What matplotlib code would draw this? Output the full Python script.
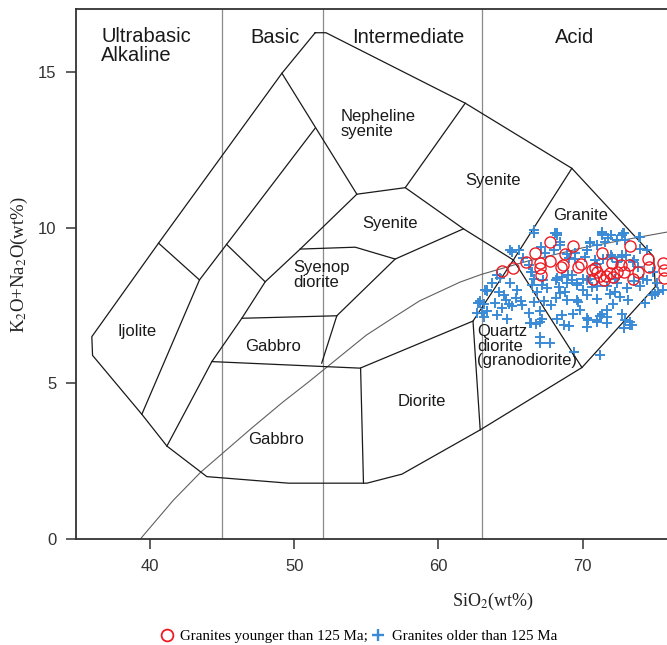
import matplotlib
matplotlib.use("Agg")
import matplotlib.pyplot as plt
from matplotlib.lines import Line2D

plt.rcParams["mathtext.fontset"] = "stix"

# --- field boundaries (SiO2, Na2O+K2O) ---
outline = [(51.45, 16.25), (52.2, 16.25), (61.86, 13.99), (69.26, 11.9),
           (74.93, 9.07), (75.05, 8.1), (69.96, 5.51), (62.9, 3.51),
           (57.47, 2.09), (55.04, 1.8), (49.6, 1.8), (43.93, 2.01),
           (41.16, 2.99), (39.42, 4.01), (36.0, 5.9), (35.95, 6.5),
           (40.58, 9.5), (49.14, 14.95), (51.45, 16.25)]
field_lines = [
    [(40.58, 9.5), (43.42, 8.32), (39.42, 4.01)],
    [(43.42, 8.32), (51.45, 13.19)],
    [(49.14, 14.95), (54.34, 11.07)],
    [(45.3, 9.46), (47.98, 8.26)],
    [(41.16, 2.99), (44.28, 5.7), (46.36, 7.09), (47.98, 8.26),
     (50.41, 9.31), (54.34, 11.07), (57.7, 11.28), (61.86, 13.99)],
    [(57.7, 11.28), (61.74, 9.96), (65.2, 8.96)],
    [(69.26, 11.9), (65.2, 8.96), (62.4, 7.0), (62.9, 3.51)],
    [(65.2, 8.96), (69.96, 5.51)],
    [(50.41, 9.31), (54.23, 9.37), (57.0, 8.99), (61.74, 9.96)],
    [(57.0, 8.99), (52.95, 7.17), (51.9, 5.65)],
    [(46.36, 7.09), (52.95, 7.17)],
    [(44.28, 5.7), (54.57, 5.49), (62.4, 7.0)],
    [(54.6, 5.49), (54.8, 1.8)],
]
silica_divides = [45, 52, 63]

# alkaline / subalkaline divide
divide_x = [39.3, 41.6, 43.5, 45, 47, 49.2, 51, 53, 55, 57, 58.7, 61.5,
            63, 66, 70, 74, 77]
divide_y = [0, 1.25, 2.15, 2.75, 3.55, 4.4, 5.05, 5.8, 6.55, 7.15, 7.65,
            8.25, 8.5, 8.9, 9.35, 9.7, 9.95]

# --- samples ---
young_sio2 = [64.41, 65.21, 66.07, 66.72, 67.02, 67.13, 67.06, 67.76, 67.76,
              68.50, 68.80, 69.33, 69.72, 69.91, 70.65, 70.72, 71.02, 71.35,
              71.46, 71.64, 72.04, 72.39, 72.66, 72.85, 73.19, 73.31, 73.50,
              73.82, 74.51, 74.58, 75.58, 75.67, 75.67, 68.66, 71.20, 71.90,
              72.10, 70.90]
young_alk = [8.62, 8.69, 8.91, 9.18, 8.87, 8.48, 8.70, 9.55, 8.93,
             8.75, 9.15, 9.42, 8.75, 8.82, 8.64, 8.35, 8.57, 9.19,
             8.32, 8.45, 8.85, 8.59, 8.80, 8.59, 8.80, 9.41, 8.34,
             8.59, 8.98, 8.75, 8.87, 8.64, 8.37, 8.79, 8.45, 8.55,
             8.40, 8.70]

old_sio2 = [65.12, 64.08, 66.28, 66.39, 66.62, 67.20, 66.50, 67.10, 68.13,
            68.36, 68.59, 68.24, 68.47, 63.38, 64.19, 64.54, 64.66, 64.89,
            65.47, 65.35, 65.12, 65.70, 64.43, 63.96, 63.15, 62.92, 63.04,
            63.38, 64.08, 64.77, 66.28, 66.62, 67.32, 66.39, 66.74, 67.20,
            68.24, 68.59, 66.86, 67.55, 68.47, 68.13, 67.02, 67.78, 65.81,
            68.89, 69.47, 69.00, 69.24, 68.78, 69.59, 70.05, 70.51, 70.63,
            70.28, 70.51, 70.97, 71.32, 71.55, 72.01, 72.36, 72.71, 72.94,
            73.05, 72.71, 72.01, 72.36, 71.44, 70.97, 73.98, 73.98, 73.52,
            73.86, 74.21, 75.02, 75.25, 75.60, 68.89, 69.59, 69.35, 69.82,
            70.28, 70.97, 71.32, 71.67, 71.90, 72.25, 72.59, 72.13, 73.17,
            72.71, 73.29, 73.40, 72.94, 70.40, 70.97, 71.67, 69.70, 70.05,
            72.25, 74.90, 66.60, 68.10, 70.53, 71.34, 71.80, 72.38, 72.84,
            73.89, 66.60, 68.22, 71.35, 72.85, 64.98, 63.25, 62.78, 63.13,
            66.37, 67.06, 68.68, 70.31, 71.00, 71.69, 67.06, 67.06, 67.76,
            69.38, 71.23, 72.85, 73.31, 69.03, 70.30, 71.23, 74.35, 74.81,
            66.48, 67.29, 68.22, 68.91, 69.26, 69.60, 70.30, 71.00, 71.69,
            72.38, 73.08, 73.54, 74.00, 74.46, 75.16, 69.03, 69.49, 70.18,
            70.88, 72.04, 72.73, 73.54, 74.46, 67.41, 67.99, 68.45, 65.90,
            65.56, 64.98, 64.29, 63.71, 63.36, 62.90, 62.67]
old_alk = [9.20, 8.49, 8.79, 8.58, 8.36, 8.15, 8.15, 9.38, 8.31,
           8.10, 8.42, 9.75, 9.54, 7.99, 7.93, 7.83, 7.67, 7.56,
           7.99, 7.74, 7.49, 7.63, 7.42, 7.59, 7.56, 7.63, 7.27,
           7.31, 7.21, 7.08, 7.27, 7.61, 7.63, 6.95, 6.92, 7.06,
           7.06, 7.19, 7.93, 8.06, 7.91, 7.74, 7.31, 7.51, 7.51,
           9.16, 9.00, 8.47, 8.31, 7.94, 8.15, 7.99, 8.36, 8.10,
           9.27, 9.54, 9.43, 9.75, 9.54, 9.75, 9.59, 9.75, 9.59,
           9.11, 9.11, 9.11, 8.90, 9.00, 8.84, 9.70, 9.32, 8.90,
           8.74, 8.36, 7.88, 7.94, 7.99, 7.67, 7.67, 7.24, 7.35,
           7.83, 7.72, 7.24, 7.35, 7.88, 7.94, 7.77, 7.56, 7.67,
           7.24, 6.97, 6.86, 7.02, 7.02, 7.02, 7.13, 7.61, 8.36,
           8.36, 8.58, 9.82, 9.82, 9.50, 9.82, 9.66, 9.61, 9.82,
           9.71, 9.92, 9.82, 9.87, 9.82, 9.28, 8.00, 7.57, 7.14,
           6.93, 6.98, 6.88, 6.82, 6.98, 6.93, 6.50, 6.29, 6.29,
           6.02, 5.91, 6.77, 6.88, 6.83, 7.09, 7.15, 7.57, 7.84,
           8.59, 8.32, 8.38, 8.22, 8.48, 8.22, 8.32, 8.11, 8.11,
           8.22, 8.06, 8.27, 8.11, 8.32, 8.22, 9.02, 9.18, 9.07,
           8.97, 9.07, 9.07, 8.97, 9.29, 9.18, 9.29, 9.45, 9.02,
           9.29, 8.22, 8.38, 8.22, 7.95, 7.57, 7.25]

# --- labels ---
group_labels = ["Basic", "Intermediate", "Acid"]
group_x = [48.64, 57.93, 69.47]
rock_labels = ["Nepheline\nsyenite", "Syenite", "Granite", "Syenite",
               "Syenop\ndiorite", "Gabbro", "Gabbro", "Ijolite", "Diorite",
               "Quartz\ndiorite\n(granodiorite)"]
rock_x = [53.19, 63.8, 69.85, 56.62, 49.95, 48.5, 48.71, 39.08, 58.85, 62.67]
rock_y = [13.32, 11.5, 10.4, 10.14, 8.48, 6.2, 3.19, 6.66, 4.41, 6.2]
rock_ha = ["left", "center", "center", "center", "left", "center", "center",
           "center", "center", "left"]

red = "#ec1c24"
blue = "#3a8bd6"
sans = "Liberation Sans"
serif = "Liberation Serif"

fig = plt.figure(figsize=(6.67, 6.45), dpi=100)
ax = fig.add_axes([0.1139, 0.1639, 0.9107, 0.8216])
ax.set_xlim(34.85, 77)
ax.set_ylim(0, 17)

for sx in silica_divides:
    ax.axvline(sx, color="#8a8a8a", lw=0.9, zorder=1)
ax.plot(divide_x, divide_y, color="#606060", lw=0.8, zorder=1)
ax.plot(*zip(*outline), color="#1a1a1a", lw=0.9, zorder=2)
for seg in field_lines:
    ax.plot(*zip(*seg), color="#1a1a1a", lw=0.9, zorder=2)

ax.plot(old_sio2, old_alk, ls="", marker="+", ms=7, mew=1.4, color=blue,
        zorder=3)
ax.plot(young_sio2, young_alk, ls="", marker="o", ms=8, mew=1.0, mfc="none",
        mec=red, zorder=4)

ax.text(36.6, 15.84, "Ultrabasic\nAlkaline", ha="left", va="center",
        fontsize=14.5, family=sans, color="#1a1a1a", linespacing=1.0)
for lab, gx in zip(group_labels, group_x):
    ax.text(gx, 16.1, lab, ha="center", va="center", fontsize=14.5,
            family=sans, color="#1a1a1a")
for lab, rx, ry, ha in zip(rock_labels, rock_x, rock_y, rock_ha):
    ax.text(rx, ry, lab, ha=ha, va="center", fontsize=12, family=sans,
            color="#1a1a1a", linespacing=0.95)

ax.set_xticks([40, 50, 60, 70])
ax.set_yticks([0, 5, 10, 15])
ax.tick_params(direction="out", length=7, width=1.1, labelsize=12,
               colors="#333333")
ax.tick_params(axis="x", pad=7.5)
ax.tick_params(axis="y", pad=7)
for t in ax.get_xticklabels() + ax.get_yticklabels():
    t.set_family(sans)
for side in ["left", "bottom", "top"]:
    ax.spines[side].set_color("#333333")
    ax.spines[side].set_linewidth(1.3)
ax.spines["right"].set_visible(False)

fig.text(0.0292, 0.59, "K$_2$O+Na$_2$O(wt%)", rotation=90, ha="center",
         va="center", fontsize=13.5, family=serif, color="#222222")
fig.text(0.739, 0.067, "SiO$_2$(wt%)", ha="center", va="center", fontsize=13,
         family=serif, color="#222222")

handles = [
    Line2D([], [], ls="", marker="o", ms=8.5, mew=1.3, mfc="none", mec=red),
    Line2D([], [], ls="", marker="+", ms=8.5, mew=1.7, color=blue),
]
fig.legend(handles, ["Granites younger than 125 Ma;",
                     "Granites older than 125 Ma"],
           ncol=2, loc="center", bbox_to_anchor=(0.537, 0.013),
           frameon=False, prop={"family": serif, "size": 10.8},
           handlelength=1.0, handletextpad=0.4, columnspacing=0.2,
           borderpad=0)

fig.savefig("out.png", dpi=100)
